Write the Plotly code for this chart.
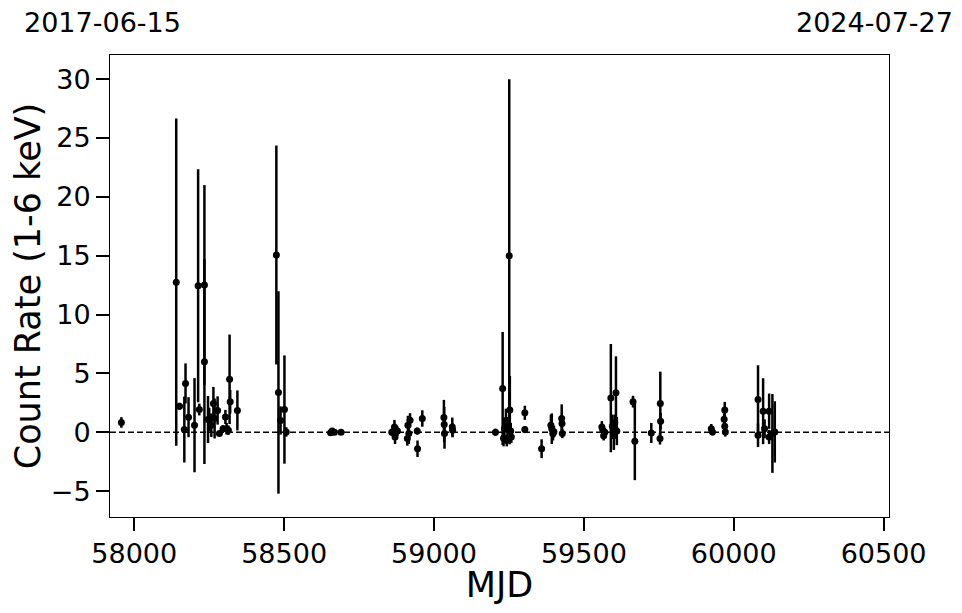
import plotly.graph_objects as go

mjd = [57957, 58140, 58151, 58167, 58171, 58181, 58201, 58213, 58217, 58234,
       58234, 58246, 58250, 58257, 58264, 58268, 58278, 58284, 58296, 58304,
       58308, 58314, 58318, 58320, 58344, 58474, 58481, 58488, 58501, 58507,
       58655, 58660, 58668, 58690, 58859, 58868, 58870, 58878, 58911, 58913,
       58916, 58920, 58944, 58945, 58961, 59033, 59034, 59035, 59061, 59062,
       59205, 59229, 59232, 59235, 59240, 59243, 59245, 59251, 59253, 59256,
       59258, 59303, 59303, 59359, 59390, 59393, 59397, 59400, 59426, 59427,
       59428, 59560, 59563, 59566, 59570, 59590, 59595, 59600, 59603, 59607,
       59610, 59664, 59670, 59725, 59755, 59756, 59754, 59925, 59929, 59970,
       59968, 59970, 59972, 60081, 60081, 60098, 60103, 60118, 60118, 60129,
       60137]
rate = [0.83, 12.75, 2.2, 0.23, 4.15, 1.28, 0.6, 12.45, 1.93, 12.5,
        6.0, 1.08, 1.08, 0.6, 2.45, 1.17, 1.85, -0.1, 0.3, 1.3,
        0.3, 0.17, 4.5, 2.6, 1.85, 15.06, 3.38, 1.0, 1.93, 0.03,
        -0.05, 0.1, 0.0, 0.0, 0.0, 0.45, -0.4, 0.1, -0.54, 0.6,
        -0.1, 1.02, 0.1, -1.4, 1.17, 1.25, 0.65, -0.1, 0.45, 0.17,
        0.0, 3.72, -0.5, 0.3, 1.0, -0.7, 0.5, 15.0, 1.88, 0.1,
        -0.4, 1.65, 0.23, -1.4, 0.6, 0.3, -0.1, 0.05, 1.17, 0.74,
        -0.1, 0.45, 0.2, -0.3, 0.0, 2.9, 0.5, -0.3, 0.8, 3.35,
        0.1, 2.6, -0.77, -0.06, 2.45, 0.94, -0.54, 0.3, 0.03, 1.88,
        1.1, 0.5, 0.03, 2.79, -0.26, 1.79, 0.3, 1.79, -0.4, -0.1,
        0.03]
err = [0.45, 13.9, 0.3, 2.8, 1.7, 1.7, 4.0, 9.9, 0.5, 8.5,
       8.7, 2.0, 1.0, 1.0, 1.4, 1.7, 1.2, 0.2, 0.3, 0.6,
       0.5, 0.4, 3.8, 1.0, 1.7, 9.3, 8.6, 1.2, 4.6, 0.4,
       0.2, 0.2, 0.15, 0.15, 0.3, 0.6, 0.6, 0.4, 0.6, 0.8,
       0.9, 0.6, 0.3, 0.7, 0.7, 1.5, 1.5, 1.3, 0.8, 0.6,
       0.3, 4.8, 0.7, 0.9, 1.0, 0.5, 0.8, 15.0, 2.9, 0.7,
       0.5, 0.6, 0.3, 0.8, 0.9, 1.3, 0.6, 0.5, 1.2, 0.6,
       0.4, 0.5, 0.5, 0.4, 0.3, 4.6, 1.0, 1.2, 0.7, 3.1,
       1.2, 0.5, 3.3, 0.85, 2.7, 0.7, 0.5, 0.4, 0.3, 0.7,
       0.5, 0.5, 0.4, 2.9, 1.0, 2.8, 0.8, 1.5, 0.6, 3.35,
       2.6]

x_range = [57919, 60518]
x_ticks = [58000, 58500, 59000, 59500, 60000, 60500]
x_ticklabels = ["58000", "58500", "59000", "59500", "60000", "60500"]
y_ticks = [-5, 0, 5, 10, 15, 20, 25, 30]
start_label = "2017-06-15"
end_label = "2024-07-27"

font_family = "DejaVu Sans"
W, H = 946, 597
L, R, T, B = 102, 65, 47, 88
pw, ph = W - L - R, H - T - B

fig = go.Figure()
fig.add_trace(go.Scatter(
    x=mjd, y=rate, mode="markers",
    marker=dict(color="black", size=7),
    error_y=dict(type="data", array=err, visible=True, color="black",
                 thickness=2.5, width=0),
    showlegend=False,
))
fig.add_shape(type="line", xref="paper", x0=0, x1=1, yref="y", y0=0, y1=0,
              line=dict(color="black", width=1.5, dash="6px,3px"))

fig.add_annotation(xref="paper", yref="paper", x=(13.5 - L) / pw, y=1 + (T - 14) / ph,
                   text=start_label, showarrow=False, xanchor="left",
                   yanchor="middle", font=dict(size=27, color="black", family=font_family))
fig.add_annotation(xref="paper", yref="paper", x=(947 - L) / pw, y=1 + (T - 14) / ph,
                   text=end_label, showarrow=False, xanchor="right",
                   yanchor="middle", font=dict(size=27, color="black", family=font_family))

axis_common = dict(showgrid=False, zeroline=False, showline=True, linecolor="black",
                   linewidth=1, mirror=True, ticks="outside", ticklen=13, tickwidth=2,
                   tickcolor="black", automargin=False,
                   tickfont=dict(size=27, color="black", family=font_family))

fig.update_xaxes(range=x_range, tickvals=x_ticks, ticktext=x_ticklabels,
                 title=dict(text="MJD", font=dict(size=35, color="black", family=font_family),
                            standoff=6),
                 **axis_common)
fig.update_yaxes(range=[-7.2, 32.05], tickvals=y_ticks,
                 title=dict(text="Count Rate (1-6 keV)",
                            font=dict(size=35, color="black", family=font_family),
                            standoff=6),
                 **axis_common)

fig.update_layout(width=W, height=H, margin=dict(l=L, r=R, t=T, b=B),
                  plot_bgcolor="white", paper_bgcolor="white",
                  font=dict(family=font_family, color="black"))

fig.write_html("out.html")
